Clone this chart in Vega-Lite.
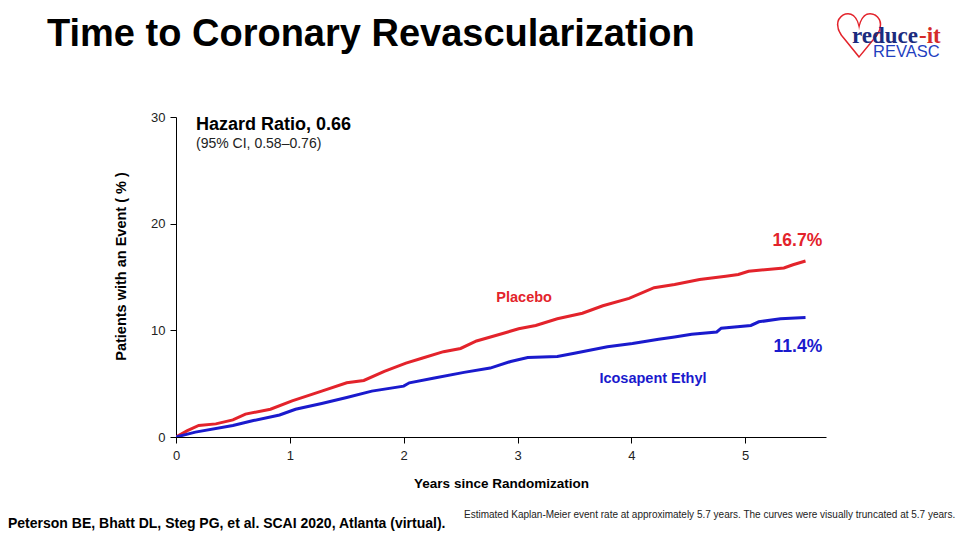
{
  "$schema": "https://vega.github.io/schema/vega-lite/v6.json",
  "width": 650,
  "height": 320,
  "autosize": {"type": "none"},
  "padding": {"left": 176, "top": 117, "right": 134, "bottom": 103},
  "background": "white",
  "config": {
    "view": {"stroke": null},
    "font": "Liberation Sans",
    "axis": {"domainColor": "black", "tickColor": "black", "domainWidth": 1, "tickWidth": 1, "tickSize": 6, "grid": false, "labelFlush": false, "labelFont": "Liberation Sans", "labelFontSize": 13, "labelColor": "#222", "titleFont": "Liberation Sans", "titleFontWeight": "bold", "titleColor": "black"}
  },
  "datasets": {
    "curves": [
      {"series": "Placebo", "year": 0, "pct": 0},
      {"series": "Placebo", "year": 0.1, "pct": 0.6},
      {"series": "Placebo", "year": 0.2, "pct": 1.08},
      {"series": "Placebo", "year": 0.35, "pct": 1.23},
      {"series": "Placebo", "year": 0.5, "pct": 1.6},
      {"series": "Placebo", "year": 0.61, "pct": 2.15},
      {"series": "Placebo", "year": 0.83, "pct": 2.6},
      {"series": "Placebo", "year": 1.02, "pct": 3.38},
      {"series": "Placebo", "year": 1.28, "pct": 4.3},
      {"series": "Placebo", "year": 1.5, "pct": 5.08},
      {"series": "Placebo", "year": 1.65, "pct": 5.3},
      {"series": "Placebo", "year": 1.83, "pct": 6.15},
      {"series": "Placebo", "year": 2.02, "pct": 6.92},
      {"series": "Placebo", "year": 2.16, "pct": 7.38},
      {"series": "Placebo", "year": 2.35, "pct": 8.0},
      {"series": "Placebo", "year": 2.5, "pct": 8.3},
      {"series": "Placebo", "year": 2.64, "pct": 9.0},
      {"series": "Placebo", "year": 2.87, "pct": 9.7},
      {"series": "Placebo", "year": 3.01, "pct": 10.15},
      {"series": "Placebo", "year": 3.16, "pct": 10.46},
      {"series": "Placebo", "year": 3.35, "pct": 11.08},
      {"series": "Placebo", "year": 3.57, "pct": 11.6},
      {"series": "Placebo", "year": 3.75, "pct": 12.3},
      {"series": "Placebo", "year": 3.98, "pct": 13.0},
      {"series": "Placebo", "year": 4.2, "pct": 14.0},
      {"series": "Placebo", "year": 4.38, "pct": 14.3},
      {"series": "Placebo", "year": 4.6, "pct": 14.77},
      {"series": "Placebo", "year": 4.83, "pct": 15.08},
      {"series": "Placebo", "year": 4.94, "pct": 15.23},
      {"series": "Placebo", "year": 5.03, "pct": 15.54},
      {"series": "Placebo", "year": 5.34, "pct": 15.85},
      {"series": "Placebo", "year": 5.42, "pct": 16.15},
      {"series": "Placebo", "year": 5.53, "pct": 16.5},
      {"series": "Icosapent Ethyl", "year": 0, "pct": 0},
      {"series": "Icosapent Ethyl", "year": 0.17, "pct": 0.46},
      {"series": "Icosapent Ethyl", "year": 0.5, "pct": 1.08},
      {"series": "Icosapent Ethyl", "year": 0.68, "pct": 1.54},
      {"series": "Icosapent Ethyl", "year": 0.91, "pct": 2.06},
      {"series": "Icosapent Ethyl", "year": 1.05, "pct": 2.6},
      {"series": "Icosapent Ethyl", "year": 1.28, "pct": 3.14},
      {"series": "Icosapent Ethyl", "year": 1.5, "pct": 3.7},
      {"series": "Icosapent Ethyl", "year": 1.72, "pct": 4.3},
      {"series": "Icosapent Ethyl", "year": 2.0, "pct": 4.77},
      {"series": "Icosapent Ethyl", "year": 2.05, "pct": 5.08},
      {"series": "Icosapent Ethyl", "year": 2.27, "pct": 5.54},
      {"series": "Icosapent Ethyl", "year": 2.53, "pct": 6.06},
      {"series": "Icosapent Ethyl", "year": 2.76, "pct": 6.46},
      {"series": "Icosapent Ethyl", "year": 2.94, "pct": 7.08},
      {"series": "Icosapent Ethyl", "year": 3.09, "pct": 7.45},
      {"series": "Icosapent Ethyl", "year": 3.35, "pct": 7.54},
      {"series": "Icosapent Ethyl", "year": 3.5, "pct": 7.85},
      {"series": "Icosapent Ethyl", "year": 3.79, "pct": 8.46},
      {"series": "Icosapent Ethyl", "year": 4.01, "pct": 8.77},
      {"series": "Icosapent Ethyl", "year": 4.24, "pct": 9.17},
      {"series": "Icosapent Ethyl", "year": 4.38, "pct": 9.38},
      {"series": "Icosapent Ethyl", "year": 4.53, "pct": 9.63},
      {"series": "Icosapent Ethyl", "year": 4.75, "pct": 9.85},
      {"series": "Icosapent Ethyl", "year": 4.79, "pct": 10.2},
      {"series": "Icosapent Ethyl", "year": 5.05, "pct": 10.46},
      {"series": "Icosapent Ethyl", "year": 5.12, "pct": 10.8},
      {"series": "Icosapent Ethyl", "year": 5.31, "pct": 11.08},
      {"series": "Icosapent Ethyl", "year": 5.53, "pct": 11.2}
    ],
    "endLabels": [
      {"series": "Placebo", "label": "16.7%", "year": 5.677, "pct": 18.37},
      {"series": "Icosapent Ethyl", "label": "11.4%", "year": 5.677, "pct": 8.43}
    ],
    "nameLabels": [
      {"series": "Placebo", "label": "Placebo", "year": 3.058, "pct": 13.03},
      {"series": "Icosapent Ethyl", "label": "Icosapent Ethyl", "year": 4.19, "pct": 5.44}
    ],
    "hr": [
      {"label": "Hazard Ratio, 0.66", "year": 0.176, "pct": 29.25, "kind": "main"},
      {"label": "(95% CI, 0.58\u20130.76)", "year": 0.176, "pct": 27.46, "kind": "ci"}
    ]
  },
  "layer": [
    {
      "data": {"name": "curves"},
      "mark": {"type": "line", "strokeWidth": 3, "interpolate": "linear", "clip": true},
      "encoding": {
        "x": {"field": "year", "type": "quantitative", "scale": {"domain": [0, 5.71], "nice": false, "zero": true}, "axis": {"values": [0, 1, 2, 3, 4, 5], "format": "d", "title": "Years since Randomization", "titleFontSize": 13.5, "titlePadding": 14, "labelPadding": 6}},
        "y": {"field": "pct", "type": "quantitative", "scale": {"domain": [0, 30], "nice": false}, "axis": {"values": [0, 10, 20, 30], "format": "d", "title": "Patients with an Event ( % )", "titleFontSize": 14.5, "titleY": 149, "titleX": -48, "labelPadding": 5}},
        "color": {"field": "series", "type": "nominal", "scale": {"domain": ["Placebo", "Icosapent Ethyl"], "range": ["#e3232b", "#1a1acd"]}, "legend": null}
      }
    },
    {
      "data": {"name": "endLabels"},
      "mark": {"type": "text", "align": "right", "baseline": "middle", "fontSize": 17.5, "fontWeight": "bold", "font": "Liberation Sans"},
      "encoding": {
        "x": {"field": "year", "type": "quantitative"},
        "y": {"field": "pct", "type": "quantitative"},
        "text": {"field": "label"},
        "color": {"field": "series", "type": "nominal", "scale": {"domain": ["Placebo", "Icosapent Ethyl"], "range": ["#d42a2a", "#1c1cb0"]}, "legend": null}
      }
    },
    {
      "data": {"name": "nameLabels"},
      "mark": {"type": "text", "align": "center", "baseline": "middle", "fontSize": 14.5, "fontWeight": "bold", "font": "Liberation Sans"},
      "encoding": {
        "x": {"field": "year", "type": "quantitative"},
        "y": {"field": "pct", "type": "quantitative"},
        "text": {"field": "label"},
        "color": {"field": "series", "type": "nominal", "legend": null}
      }
    },
    {
      "data": {"name": "hr"},
      "transform": [{"filter": "datum.kind == 'main'"}],
      "mark": {"type": "text", "align": "left", "baseline": "middle", "fontSize": 18, "fontWeight": "bold", "font": "Liberation Sans", "color": "black"},
      "encoding": {
        "x": {"field": "year", "type": "quantitative"},
        "y": {"field": "pct", "type": "quantitative"},
        "text": {"field": "label"}
      }
    },
    {
      "data": {"name": "hr"},
      "transform": [{"filter": "datum.kind == 'ci'"}],
      "mark": {"type": "text", "align": "left", "baseline": "middle", "fontSize": 14, "font": "Liberation Sans", "color": "#222"},
      "encoding": {
        "x": {"field": "year", "type": "quantitative"},
        "y": {"field": "pct", "type": "quantitative"},
        "text": {"field": "label"}
      }
    },
    {
      "data": {"values": [{"t": "Time to Coronary Revascularization"}]},
      "mark": {"type": "text", "align": "left", "baseline": "alphabetic", "fontSize": 38, "fontWeight": "bold", "font": "Liberation Sans", "color": "black", "x": -129, "y": -71},
      "encoding": {"text": {"field": "t"}}
    },
    {
      "data": {"values": [{"t": "\u2661"}]},
      "mark": {"type": "text", "align": "center", "baseline": "middle", "fontSize": 62, "font": "DejaVu Sans", "fontWeight": "bold", "color": "#e3232b", "x": 683, "y": -78},
      "encoding": {"text": {"field": "t"}}
    },
    {
      "data": {"values": [{"t": "reduce"}]},
      "mark": {"type": "text", "align": "left", "baseline": "alphabetic", "fontSize": 23, "fontWeight": "bold", "font": "Liberation Serif", "color": "#1b2b7e", "x": 676, "y": -74},
      "encoding": {"text": {"field": "t"}}
    },
    {
      "data": {"values": [{"t": "-it"}]},
      "mark": {"type": "text", "align": "left", "baseline": "alphabetic", "fontSize": 23, "fontWeight": "bold", "font": "Liberation Serif", "color": "#d42a2a", "x": 743, "y": -74},
      "encoding": {"text": {"field": "t"}}
    },
    {
      "data": {"values": [{"t": "REVASC"}]},
      "mark": {"type": "text", "align": "left", "baseline": "alphabetic", "fontSize": 16.5, "font": "Liberation Sans", "color": "#1f3fbf", "x": 697, "y": -60},
      "encoding": {"text": {"field": "t"}}
    },
    {
      "data": {"values": [{"t": "Peterson BE, Bhatt DL, Steg PG, et al. SCAI 2020, Atlanta (virtual)."}]},
      "mark": {"type": "text", "align": "left", "baseline": "middle", "fontSize": 14, "fontWeight": "bold", "font": "Liberation Sans", "color": "black", "x": -168, "y": 407},
      "encoding": {"text": {"field": "t"}}
    },
    {
      "data": {"values": [{"t": "Estimated Kaplan-Meier event rate at approximately 5.7 years. The curves were visually truncated at 5.7 years."}]},
      "mark": {"type": "text", "align": "left", "baseline": "middle", "fontSize": 10, "font": "Liberation Sans", "color": "#222", "x": 288, "y": 398},
      "encoding": {"text": {"field": "t"}}
    }
  ]
}
